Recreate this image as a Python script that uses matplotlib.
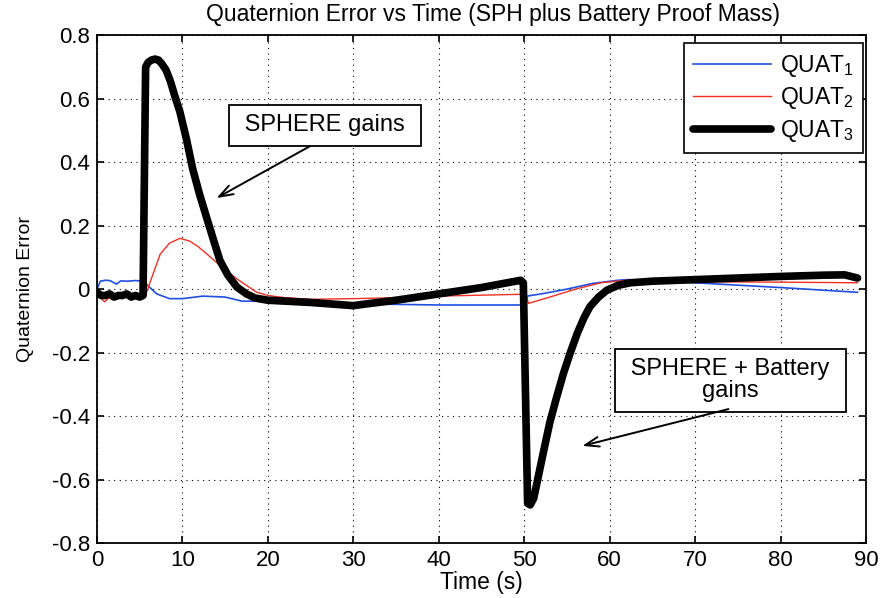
import numpy as np
import matplotlib
matplotlib.use('Agg')
import matplotlib.pyplot as plt

plt.rcParams['font.family'] = ['Liberation Sans', 'DejaVu Sans']
plt.rcParams['mathtext.default'] = 'regular'

# quaternion error components
t_q1 = [0, 0.4, 1.0, 1.5, 2.3, 2.8, 3.5, 4.5, 5.5, 6.0, 7.0, 8.5, 10, 12.4, 15, 17, 20, 25,
        30, 35, 40, 45, 50.0, 50.3, 52, 55, 58, 61, 62, 70, 80, 89]
q1 = [0.0, 0.025, 0.028, 0.027, 0.016, 0.026, 0.025, 0.027, 0.025, 0.01, -0.015, -0.03, -0.03,
      -0.022, -0.025, -0.038, -0.038, -0.042, -0.046, -0.048, -0.05, -0.05, -0.05, -0.022,
      -0.015, 0.0, 0.018, 0.028, 0.03, 0.02, 0.005, -0.01]

t_q2 = [0, 0.5, 0.9, 1.5, 2, 3, 4, 5, 5.7, 6.2, 7.4, 8.5, 9.7, 10.8, 11.8, 12.9, 14.8, 16.5,
        18.7, 20, 22, 25, 30, 35, 40, 45, 50.2, 50.5, 53, 56, 59, 62, 65, 70, 80, 89]
q2 = [0.0, -0.03, -0.04, -0.025, -0.02, -0.02, -0.02, -0.022, -0.02, 0.02, 0.11, 0.145, 0.16,
      0.152, 0.135, 0.11, 0.065, 0.03, -0.01, -0.02, -0.027, -0.032, -0.03, -0.027, -0.022,
      -0.019, -0.016, -0.045, -0.025, 0.0, 0.02, 0.028, 0.025, 0.023, 0.022, 0.02]

t_q3 = [0, 0.5, 1, 1.5, 2, 2.5, 3, 3.5, 4, 4.5, 5, 5.4, 5.7, 6.0, 6.4, 6.8, 7.2, 7.6, 8.1,
        8.6, 9.1, 9.7, 10.5, 11.2, 12.0, 12.9, 13.7, 14.4, 15.3, 16.4, 17.5, 18.5, 20, 25,
        28, 30, 32, 35, 40, 45, 49.6, 49.9, 50.4, 50.7, 51.1, 51.5, 52.2, 53.0, 53.8, 54.6,
        55.4, 56.2, 57.0, 57.7, 58.7, 59.7, 61, 62.4, 65, 70, 75, 80, 85, 87.5, 89]
q3 = [-0.01, -0.02, -0.02, -0.015, -0.025, -0.02, -0.02, -0.015, -0.025, -0.02, -0.025, -0.02,
      0.70, 0.715, 0.722, 0.725, 0.722, 0.71, 0.69, 0.655, 0.61, 0.56, 0.47, 0.38, 0.30,
      0.22, 0.15, 0.09, 0.045, 0.006, -0.015, -0.028, -0.035, -0.042, -0.048, -0.052,
      -0.045, -0.035, -0.015, 0.005, 0.028, 0.02, -0.675, -0.68, -0.66, -0.61, -0.52, -0.42,
      -0.34, -0.265, -0.2, -0.14, -0.09, -0.055, -0.025, -0.003, 0.012, 0.02, 0.025, 0.03,
      0.035, 0.04, 0.044, 0.045, 0.035]

x_ticks = np.arange(0, 91, 10)
y_ticks = np.round(np.arange(-0.8, 0.81, 0.2), 1)

fig = plt.figure(figsize=(8.81, 5.98), dpi=100)
ax = fig.add_axes([0.110, 0.092, 0.873, 0.849])

ax.plot(t_q1, q1, color='#1f4fe0', lw=1.2, label='QUAT$_1$')
ax.plot(t_q2, q2, color='#f03020', lw=1.0, label='QUAT$_2$')
ax.plot(t_q3, q3, color='black', lw=5.5, solid_joinstyle='round', solid_capstyle='round',
        label='QUAT$_3$')

ax.set_xlim(0, 90)
ax.set_ylim(-0.8, 0.8)
ax.set_xticks(x_ticks)
ax.set_yticks(y_ticks)
ax.set_yticklabels(['%g' % v if v != 0 else '0' for v in y_ticks])
ax.tick_params(direction='in', top=True, right=True, labelsize=16, length=5, width=1.2, pad=5)
ax.grid(True, color='black', linestyle=(0, (1, 4)), linewidth=0.8)
for s in ax.spines.values():
    s.set_linewidth(1.3)

fig.text(0.56, 0.976, 'Quaternion Error vs Time (SPH plus Battery Proof Mass)', fontsize=16.5,
         ha='center', va='center')
ax.set_xlabel('Time (s)', fontsize=16.5, labelpad=0)
ax.set_ylabel('Quaternion Error', fontsize=14, labelpad=13)

leg = ax.legend(loc='upper right', fontsize=16.5, handlelength=3.4, handletextpad=0.4,
                fancybox=False, framealpha=1, edgecolor='black', borderpad=0.4,
                labelspacing=0.3, borderaxespad=0, bbox_to_anchor=(0.996, 0.984))
leg.get_frame().set_linewidth(1.2)

box = dict(boxstyle='square,pad=0.4', fc='white', ec='black', lw=1.3)
arrow = dict(arrowstyle='->,head_width=0.35,head_length=1.0', color='black', lw=1.4,
             shrinkA=0, shrinkB=0)

ax.text(26.7, 0.517, ' SPHERE gains ', fontsize=17, ha='center', va='center', bbox=box)
ax.annotate('', xy=(14.0, 0.287), xytext=(24.9, 0.45), arrowprops=arrow)

ax.text(74.1, -0.287, ' SPHERE + Battery \ngains', fontsize=17, ha='center', va='center',
        linespacing=1.0, bbox=box)
ax.annotate('', xy=(56.8, -0.494), xytext=(73.9, -0.378), arrowprops=arrow)

fig.savefig('out.png', dpi=100)
